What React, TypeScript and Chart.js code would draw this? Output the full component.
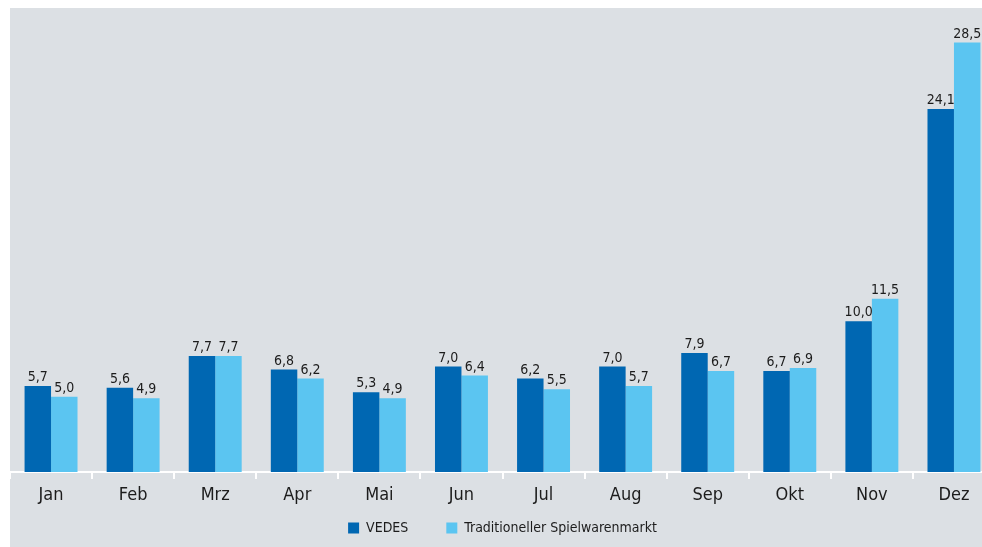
import React, { useEffect, useRef } from "react";
import { Chart, registerables } from "chart.js";

Chart.register(...registerables);

const categories = ["Jan", "Feb", "Mrz", "Apr", "Mai", "Jun", "Jul", "Aug", "Sep", "Okt", "Nov", "Dez"];
const vedesValues = [5.7, 5.6, 7.7, 6.8, 5.3, 7.0, 6.2, 7.0, 7.9, 6.7, 10.0, 24.1];
const marketValues = [5.0, 4.9, 7.7, 6.2, 4.9, 6.4, 5.5, 5.7, 6.7, 6.9, 11.5, 28.5];
const seriesNames = ["VEDES", "Traditioneller Spielwarenmarkt"];

const FONT = "'DejaVu Sans Condensed', 'Liberation Sans Narrow', 'Roboto Condensed', sans-serif";
const TEXT = "#1c1c1c";

const valueLabels = {
  id: "valueLabels",
  afterDatasetsDraw(chart: any) {
    const ctx = chart.ctx;
    ctx.save();
    ctx.font = `14px ${FONT}`;
    ctx.fillStyle = TEXT;
    ctx.textAlign = "center";
    ctx.textBaseline = "alphabetic";
    chart.data.datasets.forEach((ds: any, i: number) => {
      const meta = chart.getDatasetMeta(i);
      meta.data.forEach((el: any, j: number) => {
        const v = ds.data[j];
        ctx.fillText(v.toFixed(1).replace(".", ","), el.x, el.y - 5);
      });
    });
    ctx.restore();
  },
};

export default function App() {
  const ref = useRef<HTMLCanvasElement>(null);
  useEffect(() => {
    if (!ref.current) return;
    const chart = new Chart(ref.current, {
      type: "bar",
      data: {
        labels: categories,
        datasets: [
          { label: seriesNames[0], data: vedesValues, backgroundColor: "#0067b2", borderWidth: 0 },
          { label: seriesNames[1], data: marketValues, backgroundColor: "#5bc5f1", borderWidth: 0 },
        ],
      },
      options: {
        responsive: false,
        animation: false,
        devicePixelRatio: 1,
        layout: { padding: { top: 12, left: 0, right: 5, bottom: 2 } },
        datasets: { bar: { categoryPercentage: 0.645, barPercentage: 1.0 } },
        scales: {
          x: {
            afterFit: (scale: any) => {
              scale.height = 11;
            },
            grid: {
              display: true,
              drawOnChartArea: false,
              drawTicks: true,
              tickLength: 7,
              color: "#ffffff",
              lineWidth: 2,
            },
            border: { display: true, color: "#ffffff", width: 2 },
            ticks: { color: TEXT, font: { family: FONT, size: 18 }, padding: -34, mirror: true },
          },
          y: { display: false, min: 0, max: 30 },
        },
        plugins: {
          legend: {
            display: true,
            position: "bottom",
            labels: {
              boxWidth: 11,
              boxHeight: 11,
              padding: 38,
              color: TEXT,
              font: { family: FONT, size: 14 },
            },
          },
          tooltip: { enabled: false },
        },
      },
      plugins: [valueLabels],
    });
    return () => chart.destroy();
  }, []);
  return (
    <div
      style={{
        position: "fixed",
        left: 10,
        top: 8,
        width: 972,
        height: 539,
        overflow: "hidden",
        background: "#dce0e4",
      }}
    >
      <canvas ref={ref} width={990} height={539} style={{ display: "block" }} />
    </div>
  );
}
